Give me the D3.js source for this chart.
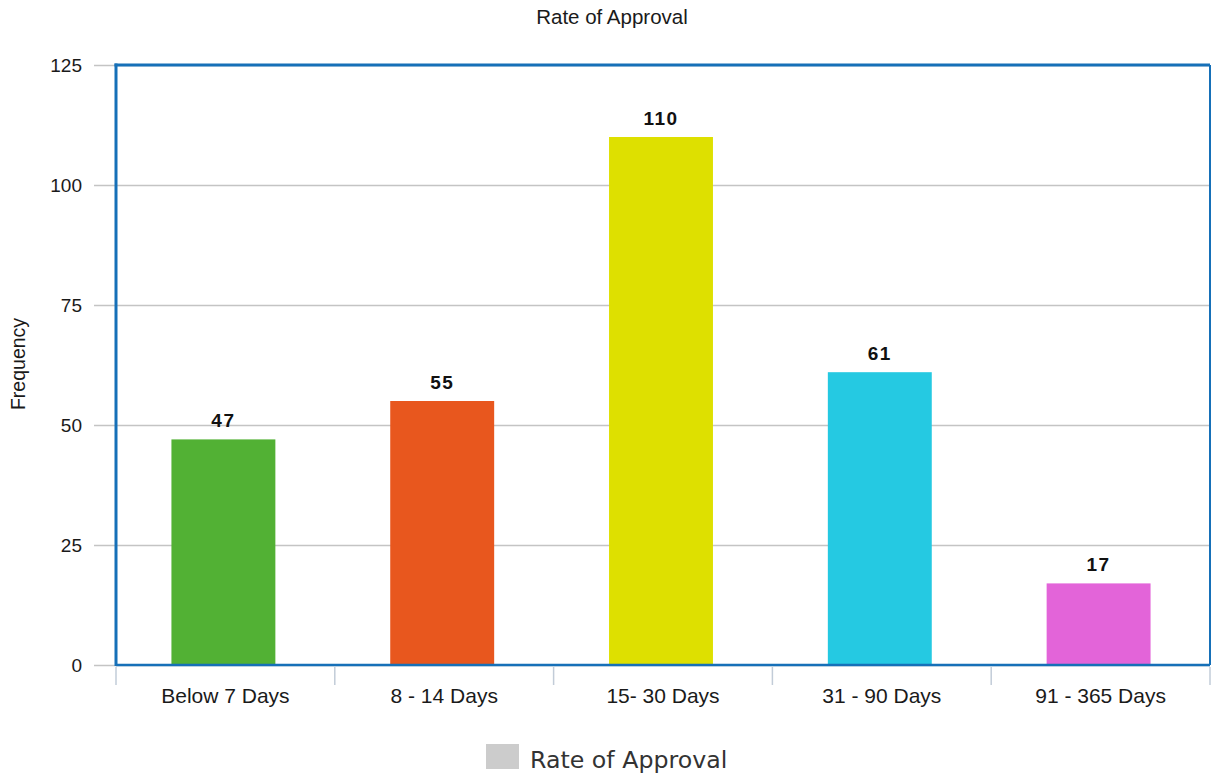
<!DOCTYPE html>
<html>
<head>
<meta charset="utf-8">
<script src="https://cdn.jsdelivr.net/npm/d3@7"></script>
<style>
  html, body { margin: 0; padding: 0; background: #fff; }
  svg { display: block; }
</style>
</head>
<body>
<svg id="chart" width="1211" height="777"></svg>
<script>
// Approval turnaround buckets and their counts
const categories = ["Below 7 Days", "8 - 14 Days", "15- 30 Days", "31 - 90 Days", "91 - 365 Days"];
const frequencies = [47, 55, 110, 61, 17];
const barColors = ["#52b134", "#e8571e", "#dee000", "#25c9e2", "#e364d9"];
const yTicks = [0, 25, 50, 75, 100, 125];
const chartTitle = "Rate of Approval";
const yTitle = "Frequency";
const legendLabel = "Rate of Approval";

const svg = d3.select("#chart");
const plot = { left: 116, right: 1210, top: 65, bottom: 665 };

// Bar positions inside each category slot
const x = d3.scaleBand()
  .domain(categories)
  .range([plot.left, plot.right])
  .paddingInner(0.525)
  .paddingOuter(0.2625);

// Full category slots (separators and labels)
const xBand = d3.scaleBand()
  .domain(categories)
  .range([plot.left, plot.right]);

const y = d3.scaleLinear()
  .domain([0, 125])
  .range([plot.bottom, plot.top]);

const sans = "'Liberation Sans', Arial, sans-serif";
const ink = "#1a1a1a";

// Horizontal gridlines, starting with a short stub left of the frame
const grid = svg.append("g")
  .attr("transform", `translate(${plot.left - 22},0)`)
  .call(d3.axisRight(y)
    .tickValues(yTicks)
    .tickSize(plot.right - plot.left + 22)
    .tickFormat(""));
grid.select(".domain").remove();
grid.selectAll(".tick line").attr("stroke", "#c4c4c4").attr("stroke-width", 1.5);

// Y tick labels
svg.append("g").selectAll("text")
  .data(yTicks)
  .join("text")
  .attr("x", 82)
  .attr("y", d => y(d))
  .attr("dy", "0.36em")
  .attr("text-anchor", "end")
  .attr("font-family", sans)
  .attr("font-size", 19)
  .attr("fill", ink)
  .text(d => d);

// Bars
svg.append("g").selectAll("rect")
  .data(categories)
  .join("rect")
  .attr("x", d => x(d) - 2)
  .attr("width", x.bandwidth())
  .attr("y", (d, i) => y(frequencies[i]))
  .attr("height", (d, i) => y(0) - y(frequencies[i]))
  .attr("fill", (d, i) => barColors[i]);

// Value labels above bars
svg.append("g").selectAll("text")
  .data(categories)
  .join("text")
  .attr("x", d => x(d) - 2 + x.bandwidth() / 2)
  .attr("y", (d, i) => y(frequencies[i]) - 12)
  .attr("text-anchor", "middle")
  .attr("font-family", sans)
  .attr("font-weight", "bold")
  .attr("font-size", 19)
  .attr("letter-spacing", 1.5)
  .attr("fill", "#111")
  .text((d, i) => frequencies[i]);

// Category separators below the axis
const sepPositions = categories.map(c => xBand(c)).concat([plot.right]);
svg.append("g").selectAll("line")
  .data(sepPositions)
  .join("line")
  .attr("x1", d => d).attr("x2", d => d)
  .attr("y1", plot.bottom + 2).attr("y2", plot.bottom + 20)
  .attr("stroke", "#c2ccd8")
  .attr("stroke-width", 1.5);

// Category labels
svg.append("g").selectAll("text")
  .data(categories)
  .join("text")
  .attr("x", d => xBand(d) + xBand.bandwidth() / 2)
  .attr("y", 703)
  .attr("text-anchor", "middle")
  .attr("font-family", sans)
  .attr("font-size", 21)
  .attr("fill", ink)
  .text(d => d);

// Plot frame
const frame = svg.append("g").attr("fill", "none").attr("stroke", "#1670b8");
frame.append("line").attr("x1", plot.left).attr("x2", plot.left)
  .attr("y1", plot.top - 1.5).attr("y2", plot.bottom + 1).attr("stroke-width", 3);
frame.append("line").attr("x1", plot.left - 1.5).attr("x2", plot.right)
  .attr("y1", plot.top).attr("y2", plot.top).attr("stroke-width", 3);
frame.append("line").attr("x1", plot.right).attr("x2", plot.right)
  .attr("y1", plot.top).attr("y2", plot.bottom).attr("stroke-width", 2);
frame.append("line").attr("x1", plot.left).attr("x2", plot.right)
  .attr("y1", plot.bottom).attr("y2", plot.bottom).attr("stroke-width", 2.5);

// Title
svg.append("text")
  .attr("x", 612).attr("y", 24)
  .attr("text-anchor", "middle")
  .attr("font-family", sans)
  .attr("font-size", 20.5)
  .attr("fill", ink)
  .text(chartTitle);

// Y axis title
svg.append("text")
  .attr("transform", "translate(25,364) rotate(-90)")
  .attr("text-anchor", "middle")
  .attr("font-family", sans)
  .attr("font-size", 19.5)
  .attr("fill", ink)
  .text(yTitle);

// Legend
const legend = svg.append("g");
legend.append("rect")
  .attr("x", 486).attr("y", 744).attr("width", 33).attr("height", 25)
  .attr("fill", "#cccccc");
legend.append("text")
  .attr("x", 530).attr("y", 768)
  .attr("font-family", "'DejaVu Sans', Verdana, sans-serif")
  .attr("font-size", 23.7)
  .attr("fill", "#333")
  .text(legendLabel);
</script>
</body>
</html>
